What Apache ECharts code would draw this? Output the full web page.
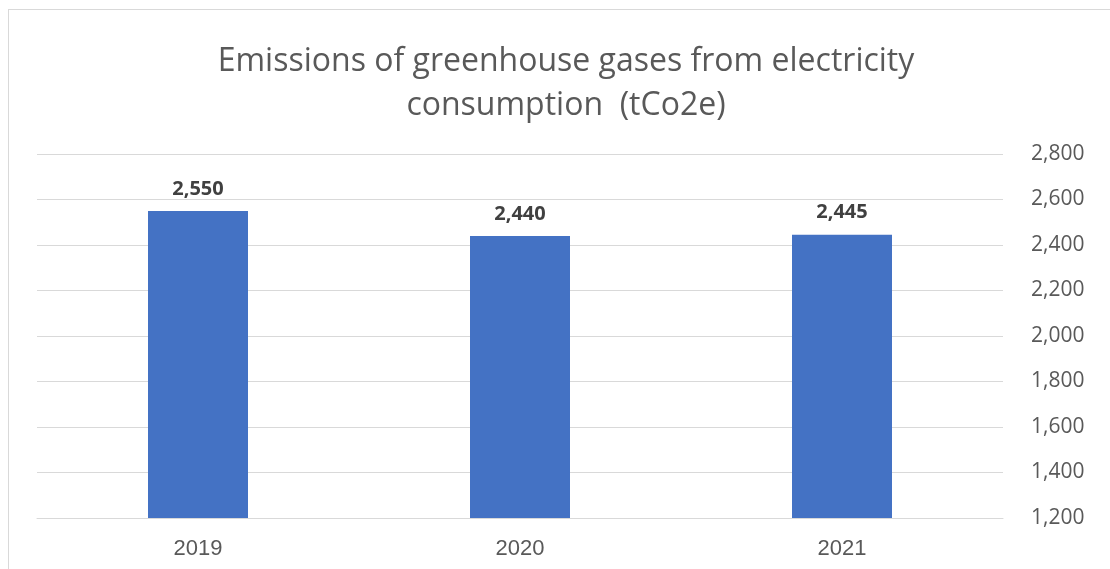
<!DOCTYPE html>
<html><head><meta charset="utf-8">
<script src="https://cdn.jsdelivr.net/npm/echarts@6/dist/echarts.min.js"></script>
<style>
html,body{margin:0;padding:0;background:#fff;}
#frame{position:absolute;left:8px;top:9px;width:1200px;height:700px;border:1px solid #d9d9d9;box-sizing:border-box;}
#c{position:absolute;left:0;top:0;width:1110px;height:569px;}
</style></head>
<body><div id="frame"></div><div id="c"></div>
<script>
const categories = ['2019', '2020', '2021'];
const emissions = [2550, 2440, 2445];
const titleText = 'Emissions of greenhouse gases from electricity\nconsumption  (tCo2e)';

const chart = echarts.init(document.getElementById('c'));
chart.setOption({
  animation: false,
  title: {
    text: titleText,
    left: 561, top: 35, textAlign: 'center',
    textStyle: {fontFamily: 'Open Sans', fontWeight: 'normal', fontSize: 32, color: '#595959', lineHeight: 44}
  },
  grid: {left: 37, right: 107, top: 154, bottom: 51},
  xAxis: {
    type: 'category', data: categories,
    axisLine: {show: true, lineStyle: {color: '#d9d9d9', width: 1}},
    axisTick: {show: false},
    axisLabel: {fontFamily: 'Liberation Sans', fontSize: 22, color: '#595959', margin: 20}
  },
  yAxis: {
    type: 'value', position: 'right', min: 1200, max: 2800, interval: 200,
    axisLine: {show: false}, axisTick: {show: false},
    splitLine: {lineStyle: {color: '#d9d9d9', width: 1}},
    axisLabel: {
      fontFamily: 'Open Sans', fontSize: 21, color: '#595959', margin: 28,
      formatter: v => v.toLocaleString('en-US')
    }
  },
  series: [{
    type: 'bar', data: emissions, barWidth: 100,
    itemStyle: {color: '#4472c4'},
    label: {
      show: true, position: 'top', distance: 12,
      fontFamily: 'Open Sans', fontWeight: 'bold', fontSize: 20, color: '#404040',
      formatter: p => p.value.toLocaleString('en-US')
    }
  }]
});
</script></body></html>
